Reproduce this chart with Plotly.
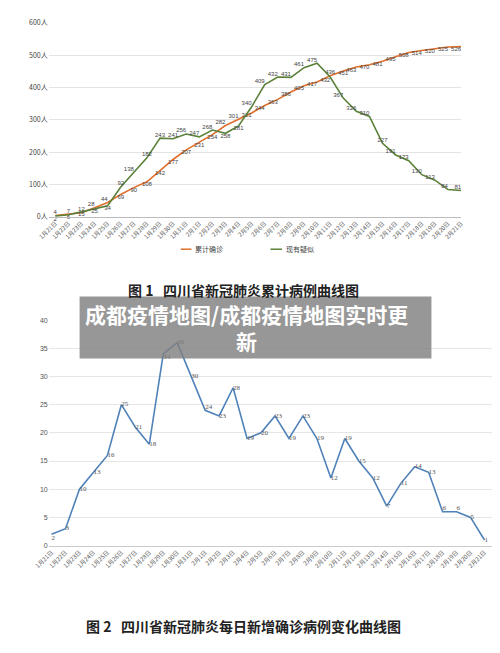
import plotly.graph_objects as go

dates = ["1月21日","1月22日","1月23日","1月24日","1月25日","1月26日","1月27日","1月28日",
         "1月29日","1月30日","1月31日","2月1日","2月2日","2月3日","2月4日","2月5日",
         "2月6日","2月7日","2月8日","2月9日","2月10日","2月11日","2月12日","2月13日",
         "2月14日","2月15日","2月16日","2月17日","2月18日","2月19日","2月20日","2月21日"]

cumulative = [4, 7, 12, 28, 44, 69, 90, 108, 142, 177, 207, 231, 254, 282, 301, 321,
              344, 363, 386, 405, 417, 436, 451, 463, 470, 481, 495, 508, 514, 520, 525, 526]
suspected = [2, 6, 15, 25, 34, 92, 138, 182, 243, 241, 256, 247, 268, 258, 281, 340,
             409, 432, 431, 461, 475, 432, 367, 326, 310, 227, 191, 173, 130, 113, 84, 81]
daily_new = [2, 3, 10, 13, 16, 25, 21, 18, 34, 36, 30, 24, 23, 28, 19, 20,
             23, 19, 23, 19, 12, 19, 15, 12, 7, 11, 14, 13, 6, 6, 5, 1]

y1_ticks = [0, 100, 200, 300, 400, 500, 600]
y1_labels = [f"{v}人" for v in y1_ticks]
y2_ticks = [0, 5, 10, 15, 20, 25, 30, 35, 40]

fig_title1 = "图 1   四川省新冠肺炎累计病例曲线图"
fig_title2 = "图 2   四川省新冠肺炎每日新增确诊病例变化曲线图"
overlay_text = "成都疫情地图/成都疫情地图实时更<br>新"
legend_names = ["累计确诊", "现有疑似"]

ORANGE = "#df6f2b"
GREEN = "#5b8139"
BLUE = "#4f82b8"

W, H = 500, 653
def px(x): return x / W
def py(y): return 1 - y / H

idx = list(range(len(dates)))

# positions of data labels (style only)
cum_pos = (["top center", "top center", "top center", "top left", "top left"] +
           ["bottom center"] * 8 + ["top left"] * 2 + ["bottom left"] * 6 +
           ["top center", "bottom center"] + ["bottom left"] * 9)
sus_pos = (["bottom center"] * 5 +
           ["top center", "top left", "top center", "top center", "top center",
            "top left", "top left", "top left", "bottom center", "bottom center",
            "top left", "top left", "top left", "top left", "top left", "top left",
            "bottom left", "top left", "top left", "top left", "top center",
            "top left", "top left", "top left", "top left", "top left", "top left"])

fig = go.Figure()
fig.add_trace(go.Scatter(
    x=idx, y=cumulative, mode="lines+text", name=legend_names[0],
    line=dict(color=ORANGE, width=1.6), text=[str(v) for v in cumulative],
    textposition=cum_pos, textfont=dict(size=6, color="#444", family="Liberation Sans"),
    xaxis="x", yaxis="y", cliponaxis=False))
fig.add_trace(go.Scatter(
    x=idx, y=suspected, mode="lines+text", name=legend_names[1],
    line=dict(color=GREEN, width=1.6), text=[str(v) for v in suspected],
    textposition=sus_pos, textfont=dict(size=6, color="#444", family="Liberation Sans"),
    xaxis="x", yaxis="y", cliponaxis=False))

d2_pos = ["middle right"] * len(daily_new)
d2_pos[0] = "bottom right"
d2_pos[8] = "bottom right"
d2_pos[11] = "top right"
d2_pos[28] = "top right"
d2_pos[29] = "top right"
fig.add_trace(go.Scatter(
    x=idx, y=daily_new, mode="lines+text", name="每日新增",
    line=dict(color=BLUE, width=1.6), text=[str(v) for v in daily_new],
    textposition=d2_pos, textfont=dict(size=7, color="#555", family="Liberation Serif"),
    xaxis="x2", yaxis="y2", cliponaxis=False, showlegend=False))

tickfont = dict(size=6, color="#555", family="Noto Sans CJK SC")

fig.update_layout(
    width=W, height=H, margin=dict(l=0, r=0, t=0, b=0),
    paper_bgcolor="white", plot_bgcolor="white", showlegend=False,
    xaxis=dict(domain=[px(35), px(463)], range=[-0.5, 31.02], tickmode="array",
               tickvals=idx, ticktext=dates, tickangle=-45, tickfont=tickfont,
               showgrid=False, showline=True, linecolor="#bbb", linewidth=1,
               ticks="", zeroline=False, anchor="y"),
    yaxis=dict(domain=[py(214), py(17)], range=[0, 600], tickmode="array",
               tickvals=y1_ticks, ticktext=y1_labels,
               tickfont=dict(size=7, color="#444", family="Noto Sans CJK SC"),
               showgrid=True, gridcolor="#e4e4e4", gridwidth=1, zeroline=False,
               anchor="x"),
    xaxis2=dict(domain=[px(35), px(495)], range=[-0.2, 31.55], tickmode="array",
                tickvals=idx, ticktext=dates, tickangle=-45, tickfont=tickfont,
                showgrid=False, showline=True, linecolor="#ccc", linewidth=1,
                ticks="", zeroline=False, anchor="y2"),
    yaxis2=dict(domain=[py(548), py(319)], range=[0, 40], tickmode="array",
                tickvals=y2_ticks, tickfont=dict(size=7, color="#555", family="Liberation Sans"),
                showgrid=True, gridcolor="#e6e6e6", gridwidth=1, zeroline=False,
                anchor="x2"),
)

# legend for chart 1
shapes = []
annotations = []
for (x0, x1, tx, col, name) in [(172, 183, 185, ORANGE, legend_names[0]),
                                (265, 277, 279, GREEN, legend_names[1])]:
    shapes.append(dict(type="line", xref="paper", yref="paper", x0=px(x0), x1=px(x1),
                       y0=py(247), y1=py(247), line=dict(color=col, width=1.5)))
    annotations.append(dict(text=name, xref="paper", yref="paper", x=px(tx), y=py(247),
                            xanchor="left", yanchor="middle", showarrow=False,
                            font=dict(size=7, color="#444", family="Noto Sans CJK SC")))

annotations.append(dict(text=fig_title1, xref="paper", yref="paper", x=px(237), y=py(288),
                        xanchor="center", yanchor="middle", showarrow=False,
                        font=dict(size=14, color="#222", family="Noto Sans CJK SC", weight="bold")))
annotations.append(dict(text=fig_title2, xref="paper", yref="paper", x=px(237), y=py(630),
                        xanchor="center", yanchor="middle", showarrow=False,
                        font=dict(size=14, color="#222", family="Noto Sans CJK SC", weight="bold")))

# overlay banner
shapes.append(dict(type="rect", xref="paper", yref="paper", x0=px(67), x1=px(432),
                   y0=py(358), y1=py(295), fillcolor="rgba(128,128,128,0.82)",
                   line=dict(width=0), layer="above"))
annotations.append(dict(text=overlay_text, xref="paper", yref="paper", x=px(240), y=py(326),
                        xanchor="center", yanchor="middle", showarrow=False, align="center",
                        font=dict(size=21, color="white", family="Noto Sans CJK SC", weight="bold")))

fig.update_layout(shapes=shapes, annotations=annotations)
fig.write_html("out.html", config={"displayModeBar": False},
               post_script="document.body.style.margin='0';document.body.style.overflow='hidden';")
